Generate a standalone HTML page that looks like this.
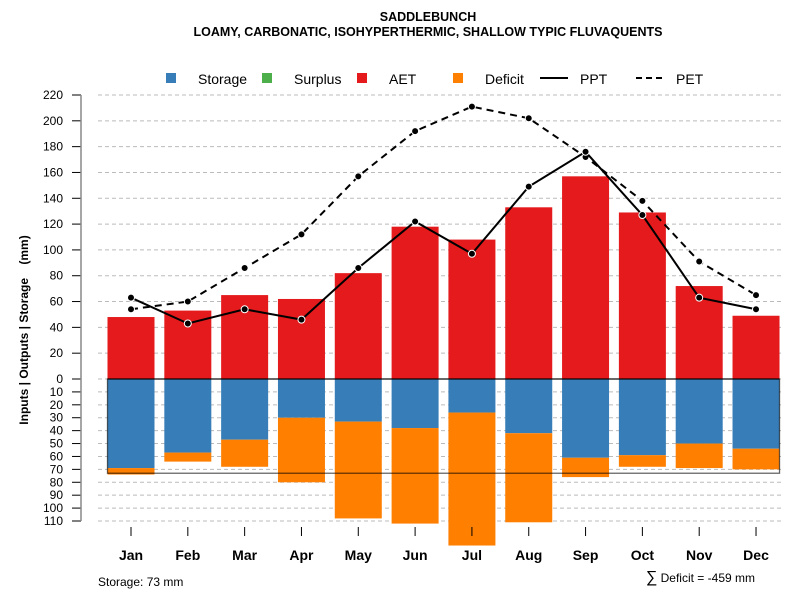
<!DOCTYPE html>
<html><head><meta charset="utf-8"><style>
body{margin:0;background:#fff;}
svg{display:block;font-family:"Liberation Sans",Arial,sans-serif;}
</style></head><body>
<svg id="c" width="800" height="600" viewBox="0 0 800 600">
<text x="428" y="21" text-anchor="middle" font-size="12.5" font-weight="bold">SADDLEBUNCH</text>
<text x="428" y="36" text-anchor="middle" font-size="12.5" font-weight="bold">LOAMY, CARBONATIC, ISOHYPERTHERMIC, SHALLOW TYPIC FLUVAQUENTS</text>
<g>
<rect x="166" y="73" width="10" height="10" fill="#377eb8"/>
<text x="198" y="84" font-size="14">Storage</text>
<rect x="262" y="73" width="10" height="10" fill="#4daf4a"/>
<text x="294" y="84" font-size="14">Surplus</text>
<rect x="357" y="73" width="10" height="10" fill="#e41a1c"/>
<text x="389" y="84" font-size="14">AET</text>
<rect x="453" y="73" width="10" height="10" fill="#ff7f00"/>
<text x="485" y="84" font-size="14">Deficit</text>
<line x1="540" y1="78" x2="568" y2="78" stroke="#000" stroke-width="2"/>
<text x="580" y="84" font-size="14">PPT</text>
<line x1="636" y1="78" x2="664" y2="78" stroke="#000" stroke-width="2" stroke-dasharray="6,4"/>
<text x="676" y="84" font-size="14">PET</text>
</g>
<text transform="translate(28,330) rotate(-90)" text-anchor="middle" font-size="12" font-weight="bold" style="white-space:pre">Inputs | Outputs | Storage    (mm)</text>
<text x="98" y="586" font-size="12">Storage: 73 mm</text>
<text x="755" y="582" text-anchor="end" font-size="12"><tspan font-size="16">∑</tspan> Deficit = -459 mm</text>
<g id="g"></g>
</svg>
<script>
const months=["Jan","Feb","Mar","Apr","May","Jun","Jul","Aug","Sep","Oct","Nov","Dec"];
const aet=[48,53,65,62,82,118,108,133,157,129,72,49];
const ppt=[63,43,54,46,86,122,97,149,176,127,63,54];
const pet=[54,60,86,112,157,192,211,202,172,138,91,65];
const storage=[69,57,47,30,33,38,26,42,61,59,50,54];
const deficit=[5,7,21,50,75,74,103,69,15,9,19,16];
const topTicks=[0,20,40,60,80,100,120,140,160,180,200,220];
const botTicks=[0,10,20,30,40,50,60,70,80,90,100,110];
const storageCap=73;
const NS="http://www.w3.org/2000/svg",g=document.getElementById("g");
const y0=379,k=1.2909;
const yTop=v=>y0-v*k, yBot=v=>y0+v*k, xC=i=>131+i*56.82, bw=47;
function el(t,a,p){const e=document.createElementNS(NS,t);for(const n in a)e.setAttribute(n,a[n]);(p||g).appendChild(e);return e;}
topTicks.forEach(v=>{const y=yTop(v);
 const l=el("line",{x1:98,x2:782,y1:y,y2:y,stroke:"#bbb","stroke-dasharray":"4,3"});
 el("line",{x1:72,x2:81,y1:y,y2:y,stroke:"#000"});
 const t=el("text",{x:63,y:y+4,"text-anchor":"end","font-size":12});t.textContent=v;});
botTicks.forEach(v=>{if(v===0)return;const y=yBot(v);
 const l=el("line",{x1:98,x2:782,y1:y,y2:y,stroke:"#bbb","stroke-dasharray":"4,3"});
 el("line",{x1:72,x2:81,y1:y,y2:y,stroke:"#000"});
 const t=el("text",{x:63,y:y+4,"text-anchor":"end","font-size":12});t.textContent=v;});
el("line",{x1:81,x2:81,y1:yTop(220),y2:yBot(110),stroke:"#888","stroke-width":1.5});
months.forEach((m,i)=>{const x=xC(i)-bw/2;
 const a=el("rect",{x:x,y:yTop(aet[i]),width:bw,height:aet[i]*k,fill:"#e41a1c"});
 const s=el("rect",{x:x,y:y0,width:bw,height:storage[i]*k,fill:"#377eb8"});
 const d=el("rect",{x:x,y:yBot(storage[i]),width:bw,height:deficit[i]*k,fill:"#ff7f00"});
 el("line",{x1:xC(i),x2:xC(i),y1:527,y2:536,stroke:"#000"});
 const t=el("text",{x:xC(i),y:560,"text-anchor":"middle","font-size":14,"font-weight":"bold"});t.textContent=m;});
const bx=el("rect",{x:xC(0)-bw/2,y:y0,width:xC(11)-xC(0)+bw,height:storageCap*k,fill:"none",stroke:"#000","stroke-opacity":0.6,"stroke-width":1.3});

el("line",{x1:xC(0)-bw/2,x2:xC(11)+bw/2,y1:y0,y2:y0,stroke:"#000"});
function series(arr,dash,name){
 const p=el("polyline",{points:arr.map((v,i)=>xC(i)+","+yTop(v)).join(" "),fill:"none",stroke:"#000","stroke-width":2,"stroke-dasharray":dash});
 
 arr.forEach((v,i)=>{const c=el("circle",{cx:xC(i),cy:yTop(v),r:3.5,fill:"#000",stroke:"#fff","stroke-width":1});});}
series(pet,"7,5","pet");
series(ppt,"none","ppt");
</script>
</body></html>
